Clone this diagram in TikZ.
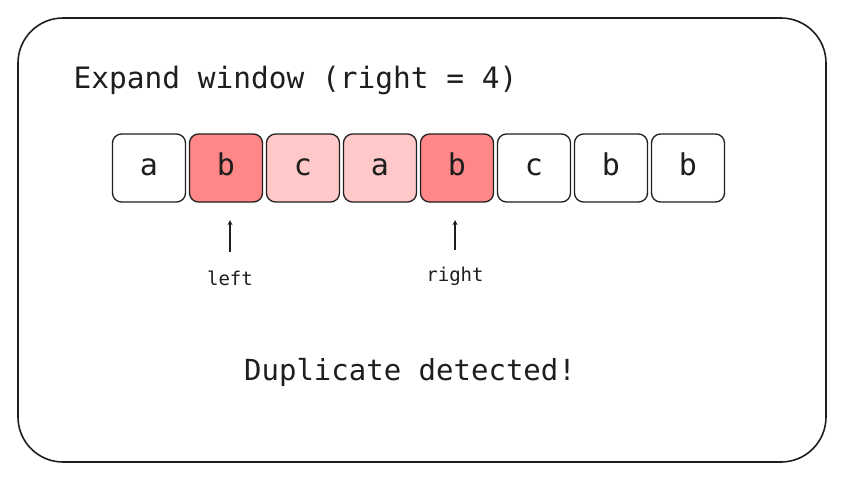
\documentclass[tikz,border=0pt]{standalone}
\usepackage{fontspec}
\setmainfont{DejaVu Sans Mono}
\definecolor{dark}{HTML}{FF8787}
\definecolor{light}{HTML}{FFC9C9}
\definecolor{ink}{HTML}{1E1E1E}
\begin{document}
\begin{tikzpicture}[x=1pt,y=-1pt,
  cell/.style={draw=ink,line width=1.3pt,rounded corners=9pt,minimum width=73pt,minimum height=68pt,inner sep=0pt,text height=15pt,text depth=0pt,font=\fontsize{30}{30}\selectfont,text=ink},
  lbl/.style={font=\fontsize{19}{19}\selectfont,text=ink},
  arr/.style={draw=ink,line width=1.3pt,->,>=stealth}]
\useasboundingbox (0,0) rectangle (844,480);
\node[draw=ink,line width=1.6pt,rounded corners=45pt,minimum width=808pt,minimum height=444pt] (frame) at (422,240) {};
\node[anchor=west,font=\fontsize{29.5}{29.5}\selectfont,text=ink] (title) at (70,80) {Expand window (right = 4)};
\foreach \i/\t/\f in {0/a/white,1/b/dark,2/c/light,3/a/light,4/b/dark,5/c/white,6/b/white,7/b/white}{
  \node[cell,fill=\f] (c\i) at (149+77*\i,168) {\t};
}
\node[lbl] (left) at (230,278) {left};
\node[lbl] (right) at (455,276) {right};
\coordinate (la) at (230,252);
\coordinate (lb) at (230,220);
\coordinate (ra) at (455,250);
\coordinate (rb) at (455,220);
\draw[arr] (la) -- (lb);
\draw[arr] (ra) -- (rb);
\node[font=\fontsize{29}{29}\selectfont,text=ink] (dup) at (410,372) {Duplicate detected!};
\end{tikzpicture}
\end{document}
